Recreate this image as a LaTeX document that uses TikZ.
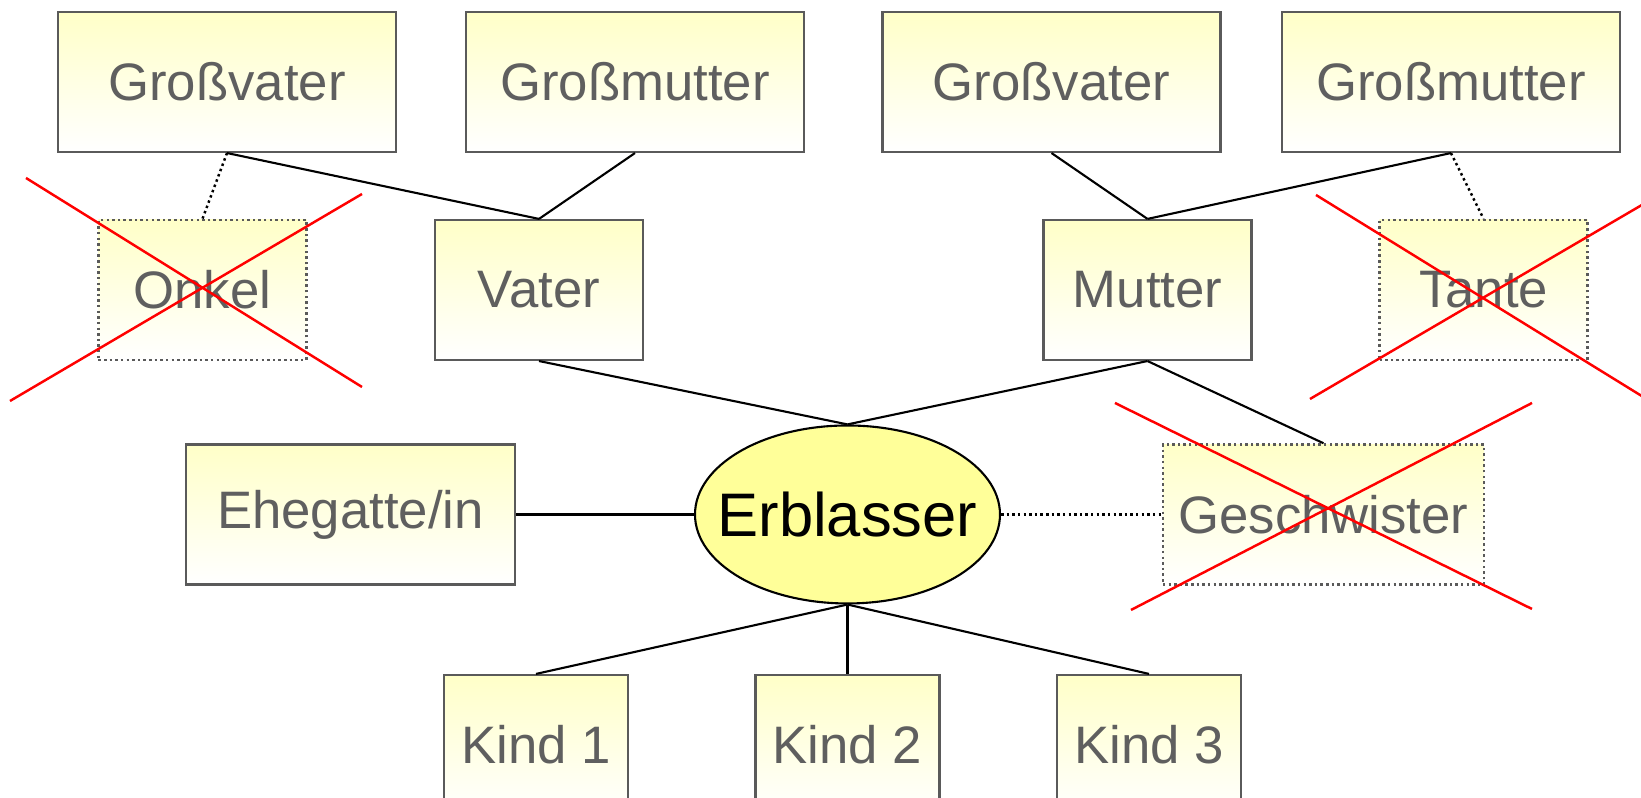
\documentclass[tikz,border=0pt]{standalone}
\usepackage{fontspec}
\setmainfont{Liberation Sans}
\usetikzlibrary{shapes.geometric}

\definecolor{boxline}{HTML}{5A5A5A}
\definecolor{boxtext}{HTML}{5F5F5F}
\definecolor{boxtop}{HTML}{FFFFC8}
\definecolor{erbfill}{HTML}{FFFF99}

\tikzset{
  person/.style={draw=boxline, line width=0.6pt, top color=boxtop, bottom color=white,
    text=boxtext, font=\fontsize{15}{18}\selectfont, minimum height=1.4cm, inner sep=0pt},
  wide/.style={person, minimum width=3.38cm},
  narrow/.style={person, minimum width=2.08cm},
  gone/.style={line width=0.7pt, dash pattern=on 0.7pt off 0.9pt},
  link/.style={line width=0.6pt},
  cross/.style={red, line width=0.7pt}
}

\begin{document}
\begin{tikzpicture}
\useasboundingbox (0,0) rectangle (16.41,7.98);

% Grosseltern
\node[wide] (gvL) at (2.27,7.16) {Großvater};
\node[wide] (gmL) at (6.35,7.16) {Großmutter};
\node[wide] (gvR) at (10.515,7.16) {Großvater};
\node[wide] (gmR) at (14.51,7.16) {Großmutter};

% Eltern
\node[narrow, gone] (onkel) at (2.025,5.08) {Onkel};
\node[narrow] (vater) at (5.39,5.08) {Vater};
\node[narrow] (mutter) at (11.475,5.08) {Mutter};
\node[narrow, gone] (tante) at (14.835,5.08) {Tante};

% Mitte
\node[person, minimum width=3.29cm] (ehe) at (3.505,2.835) {Ehegatte/in};
\node[ellipse, draw, line width=0.6pt, fill=erbfill, minimum width=3.05cm, minimum height=1.78cm,
  inner sep=0pt, label={[font=\fontsize{17.5}{21}\selectfont]center:Erblasser}] (erbl) at (8.475,2.835) {};
\node[person, gone, minimum width=3.21cm] (gesch) at (13.235,2.835) {Geschwister};

% Kinder
\node[person, minimum width=1.84cm] (kind1) at (5.36,0.53) {Kind 1};
\node[person, minimum width=1.84cm] (kind2) at (8.475,0.53) {Kind 2};
\node[person, minimum width=1.84cm] (kind3) at (11.49,0.53) {Kind 3};

\draw[link] (gvL.south) -- (vater.north);
\draw[link] (gmL.south) -- (vater.north);
\draw[link] (gvR.south) -- (mutter.north);
\draw[link] (gmR.south) -- (mutter.north);
\draw[gone] (gvL.south) -- (onkel.north);
\draw[gone] (gmR.south) -- (tante.north);

\draw[link] (vater.south) -- (erbl.north);
\draw[link] (mutter.south) -- (erbl.north);
\draw[link] (mutter.south) -- (gesch.north);
\draw[link] (ehe.east) -- (erbl.west);
\draw[gone] (erbl.east) -- (gesch.west);

\draw[link] (erbl.south) -- (kind1.north);
\draw[link] (erbl.south) -- (kind2.north);
\draw[link] (erbl.south) -- (kind3.north);

% durchgestrichen
\draw[cross] (0.26,6.20) -- (3.62,4.11);
\draw[cross] (0.10,3.97) -- (3.62,6.04);
\draw[cross] (13.16,6.03) -- (17.0,3.66);
\draw[cross] (13.10,3.99) -- (17.0,6.27);
\draw[cross] (11.15,3.95) -- (15.32,1.89);
\draw[cross] (11.31,1.88) -- (15.32,3.95);
\end{tikzpicture}
\end{document}
